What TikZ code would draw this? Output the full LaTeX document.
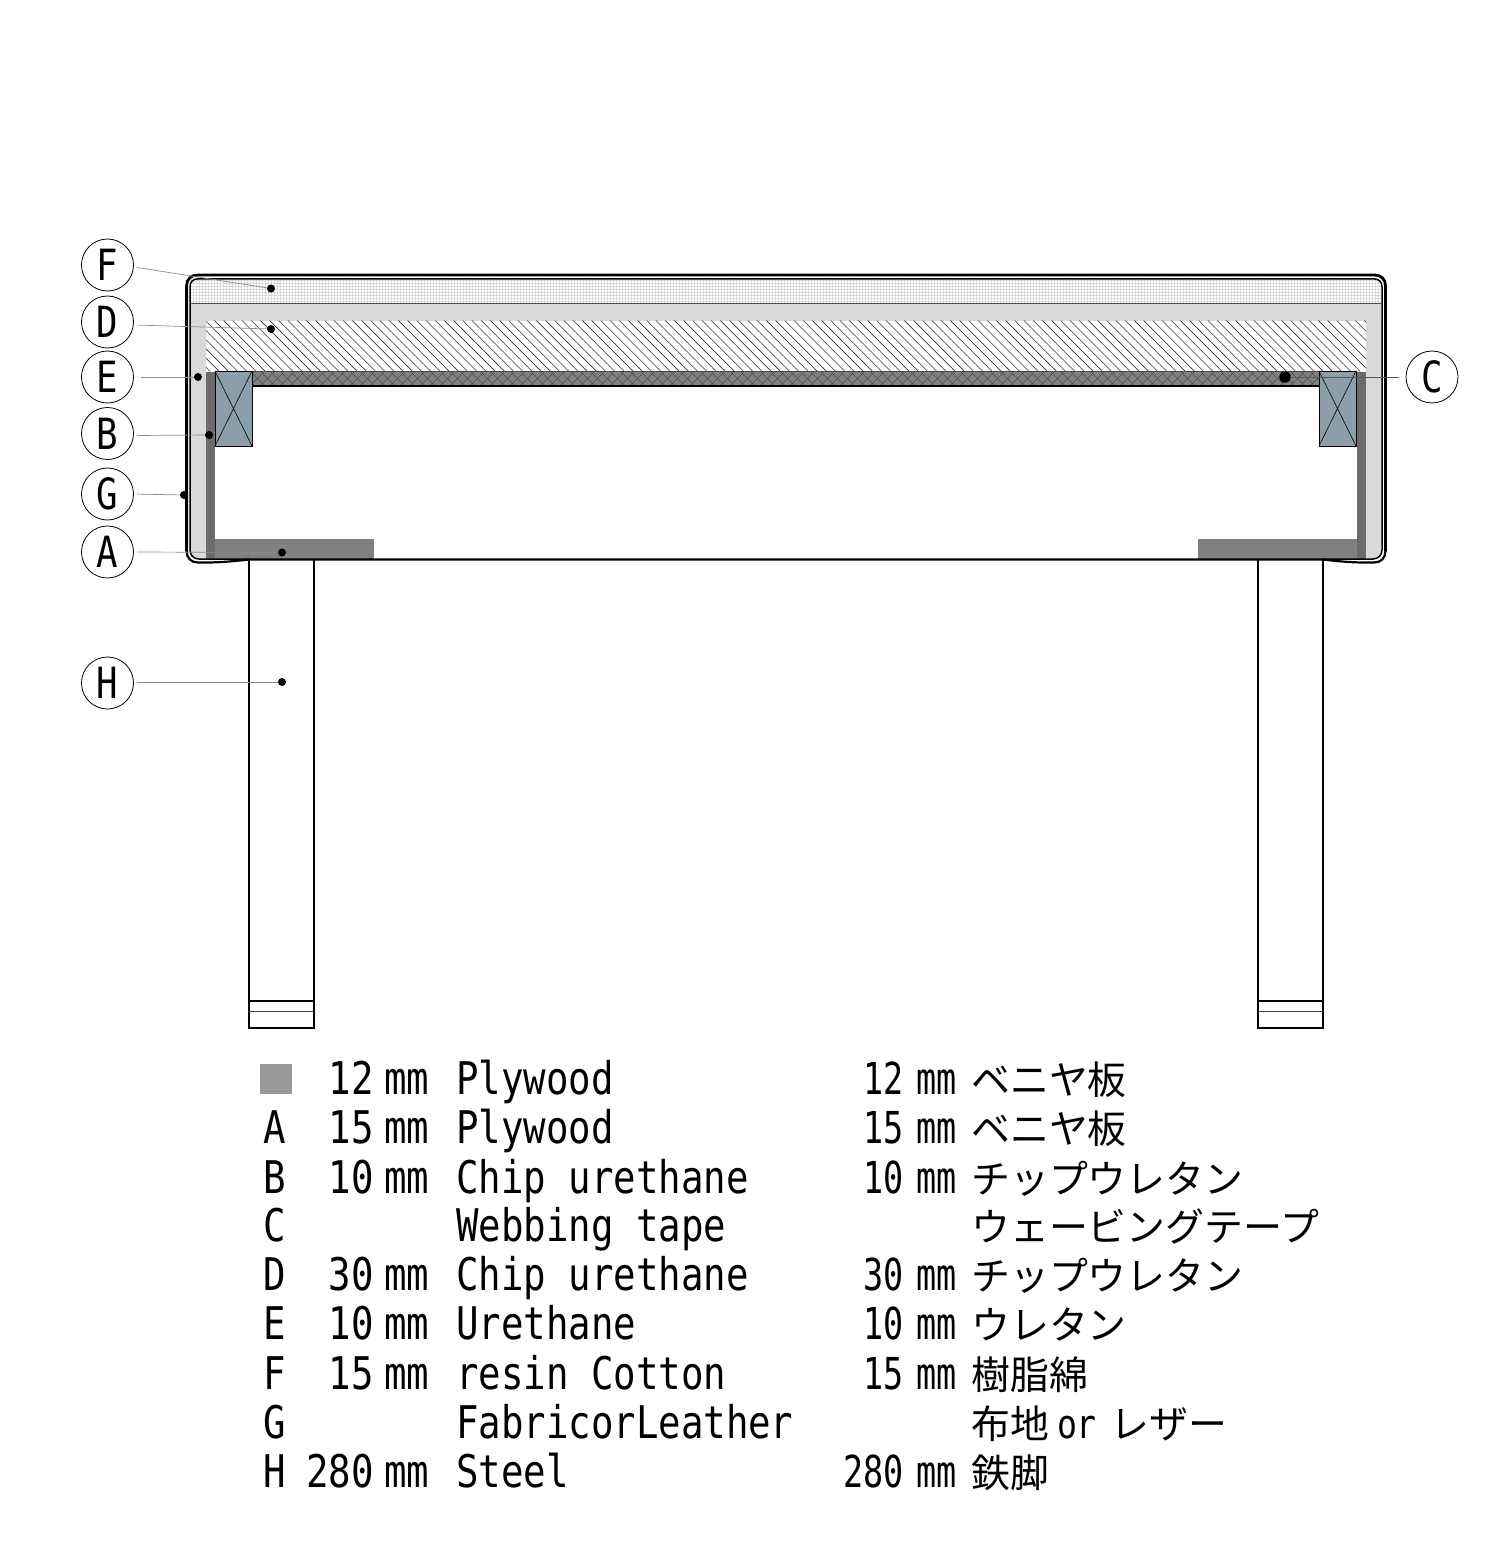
\documentclass[tikz,border=0pt]{standalone}
\usepackage{fontspec}
\newfontfamily\latw[FakeStretch=0.83]{DejaVu Sans Mono}
\newfontfamily\latn[FakeStretch=0.76]{DejaVu Sans Mono}
\newfontfamily\jpn{Noto Sans CJK JP}
\definecolor{blockblue}{HTML}{8A9FA8}
\tikzset{
  leader/.style={draw=black!45,line width=0.7pt,shorten <=3pt},
  callout/.style={circle,draw=black,line width=0.8pt,minimum size=52pt,inner sep=0pt,font=\latw\fontsize{43}{43}\selectfont,fill=white},
  enddot/.style={circle,fill=black,minimum size=8pt,inner sep=0pt},
  outline/.style={draw=black,line width=2.8pt},
  thinline/.style={draw=black,line width=1.6pt},
  legw/.style={inner sep=0pt,text height=33pt,text depth=0pt,font=\latw\fontsize{45}{45}\selectfont},
  legn/.style={inner sep=0pt,text height=33pt,text depth=0pt,font=\latn\fontsize{44}{44}\selectfont},
  legj/.style={inner sep=0pt,text height=33pt,text depth=0pt,font=\jpn\fontsize{38.9}{38.9}\selectfont}
}
\newcommand{\legrow}[6]{%
  \node[legw,anchor=west] (L#1) at (263,#2-1) {#3};
  \node[legw,anchor=west] (M#1) at (456,#2-1) {#5};
  \node[legj,anchor=west] (J#1) at (971,#2-1) {#6};
  \ifx&#4&\else
    \node[legw,anchor=east] (DL#1) at (374,#2-1) {#4};
    \node[legw,anchor=west] (UL#1) at (384,#2-1) {mm};
    \node[legn,anchor=east] (DR#1) at (904,#2-1) {#4};
    \node[legn,anchor=west] (UR#1) at (916,#2-1) {mm};
  \fi}
\begin{document}
\begin{tikzpicture}[x=1pt,y=-1pt]
\useasboundingbox (0,0) rectangle (1501,1550);
% light urethane
\fill[black!15] (190,303) rectangle (1381,320.5);
\fill[black!15] (190,320) -- (206,320) -- (206,558.5) -- (199,558.5) .. controls (194,558.5) and (190,554.5) .. (190,550) -- cycle;
\fill[black!15] (1366,320) -- (1381,320) -- (1381,550) .. controls (1381,554.5) and (1377,558.5) .. (1372,558.5) -- (1366,558.5) -- cycle;
% top cotton grid
\begin{scope}
\clip (190,279) rectangle (1381,303);
\foreach \x in {190,193,...,1381} \draw[black!15,line width=0.35pt] (\x,279) -- (\x,303);
\foreach \y in {280,283,...,303} \draw[black!15,line width=0.35pt] (190,\y) -- (1381,\y);
\end{scope}
\draw[black!70,line width=0.8pt] (190,303.5) -- (1381,303.5);
% 30mm hatch
\begin{scope}
\clip (206,320.5) rectangle (1366,371);
\foreach \x in {150,159.2,...,1366} \draw[black!80,line width=0.6pt] (\x,320.5) -- ++(51,51);
\end{scope}
% webbing
\fill[black!50] (252,371) rectangle (1319,386);
\begin{scope}
\clip (252,371) rectangle (1319,386);
\foreach \x in {230,240,...,1320} {
  \draw[black!70,line width=0.4pt] (\x,371) -- ++(15,15);
  \draw[black!70,line width=0.4pt] (\x,386) -- ++(15,-15);
}
\end{scope}
\draw[black,line width=1.2pt] (252,386) -- (1319,386);
\draw[black!70,line width=0.8pt] (252,371) -- (1319,371);
% plywood
\fill[black!50] (215,539) rectangle (374,558.5);
\fill[black!50] (1198,539) rectangle (1357,558.5);
\fill[black!58] (206,372) rectangle (215,559);
\fill[black!58] (1357,372) rectangle (1366,559);
% blocks
\foreach \a in {215,1319} {
  \filldraw[fill=blockblue,draw=black,line width=1pt] (\a,371) rectangle ++(37,75);
  \draw[black,line width=0.6pt] (\a,371) -- ++(37,75) (\a+37,371) -- ++(-37,75);
}
% legs
\draw[thinline] (249,560) -- (249,1028) -- (314,1028) -- (314,560);
\draw[thinline] (1258,560) -- (1258,1028) -- (1323,1028) -- (1323,560);
\draw[thinline] (249,1001) -- (314,1001) (1258,1001) -- (1323,1001);
\draw[black!75,line width=0.9pt] (249,1011) -- (314,1011) (1258,1011) -- (1323,1011);
% upholstery outline
\draw[outline] (186.6,551) -- (186.6,286)
  .. controls (186.6,279) and (191,275) .. (198,275) -- (1374.5,275)
  .. controls (1381,275) and (1385.5,279) .. (1385.5,286) -- (1385.5,551);
\draw[draw=black,line width=2.2pt] (249,559.5) .. controls (235,561) and (222,562.5) .. (205,562.5) -- (198,562.5)
  .. controls (191,562.5) and (186.6,558) .. (186.6,551)
  (1385.5,551)
  .. controls (1385.5,558) and (1381,562.5) .. (1374,562.5) -- (1366,562.5)
  .. controls (1349,562.5) and (1336,561) .. (1323,559.5) -- (249,559.5);
\draw[black,line width=1.5pt] (190,550) -- (190,287)
  .. controls (190,282) and (193,278.8) .. (198,278.8) -- (1373.5,278.8)
  .. controls (1379,278.8) and (1382,282) .. (1382,287) -- (1382,550)
  .. controls (1382,555) and (1378,559) .. (1373,559) -- (1323,559)
  (190,550) .. controls (190,555) and (193.5,559) .. (199,559) -- (249,559);
% callouts and dots
\node[callout] (F) at (107.5,265) {F};
\node[callout] (D) at (107.5,322) {D};
\node[callout] (E) at (107.5,377) {E};
\node[callout] (B) at (107.5,433.5) {B};
\node[callout] (G) at (107.5,494) {G};
\node[callout] (A) at (107.5,552) {A};
\node[callout] (H) at (107.5,683) {H};
\node[callout] (C) at (1432,377) {C};
\node[enddot] (dF) at (271,288.5) {};
\node[enddot] (dD) at (271,329) {};
\node[enddot] (dE) at (198,377) {};
\node[enddot] (dB) at (209,435) {};
\node[enddot] (dG) at (184,495) {};
\node[enddot] (dA) at (282,552.5) {};
\node[enddot] (dH) at (282,682) {};
\node[enddot,minimum size=11.5pt] (dC) at (1285,377) {};
\draw[leader] ([yshift=-2pt]F.east) -- (dF);
\draw[leader] ([yshift=-3pt]D.east) -- (dD);
\draw[leader,shorten <=7pt] (E.east) -- (dE);
\draw[leader] ([yshift=-2pt]B.east) -- (dB);
\draw[leader] (G.east) -- (dG);
\draw[leader] (A.east) -- (dA);
\draw[leader] ([yshift=1pt]H.east) -- (dH);
\draw[draw=black!65,line width=1pt,shorten <=7pt] (C.west) -- (dC);
% legend
\fill[black!40] (260,1064) rectangle (292,1094);
\legrow{a}{1079}{}{12}{Plywood}{ベニヤ板}
\legrow{b}{1128}{A}{15}{Plywood}{ベニヤ板}
\legrow{c}{1178}{B}{10}{Chip urethane}{チップウレタン}
\legrow{d}{1226}{C}{}{Webbing tape}{ウェービングテープ}
\legrow{e}{1275}{D}{30}{Chip urethane}{チップウレタン}
\legrow{f}{1324}{E}{10}{Urethane}{ウレタン}
\legrow{g}{1374}{F}{15}{resin Cotton}{樹脂綿}
\legrow{h}{1423}{G}{}{FabricorLeather}{布地{\kern8pt\latw\fontsize{40}{40}\selectfont or\kern14pt}レザー}
\legrow{i}{1472}{H}{280}{Steel}{鉄脚}
\end{tikzpicture}
\end{document}
